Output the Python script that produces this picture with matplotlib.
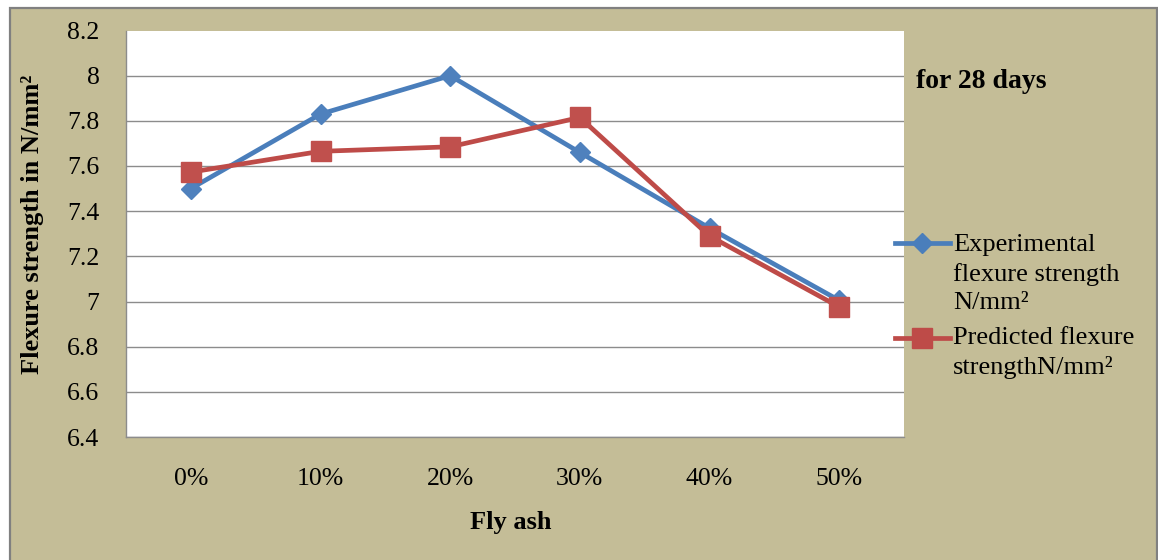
import matplotlib.pyplot as plt
from matplotlib.patches import Rectangle
from matplotlib.lines import Line2D

# fly ash replacement levels and flexure strength (N/mm2) at 28 days
fly_ash = ["0%", "10%", "20%", "30%", "40%", "50%"]
experimental = [7.50, 7.83, 8.00, 7.66, 7.325, 7.005]
predicted = [7.573, 7.665, 7.685, 7.815, 7.29, 6.976]
y_ticks = [6.4, 6.6, 6.8, 7.0, 7.2, 7.4, 7.6, 7.8, 8.0, 8.2]
y_labels = ["6.4", "6.6", "6.8", "7", "7.2", "7.4", "7.6", "7.8", "8", "8.2"]

BG = "#C4BD97"
BLUE = "#4A7EBB"
RED = "#BE4B48"
serif = ["Liberation Serif", "DejaVu Serif"]
plt.rcParams["font.family"] = serif

fig = plt.figure(figsize=(11.58, 5.6), dpi=100)
fig.patch.set_facecolor("white")

# chart frame (tan panel with grey border)
W, H = 1158, 560
frame = Rectangle((10 / W, -0.05), 1147 / W, 1.05 - 8 / H, transform=fig.transFigure,
                  facecolor=BG, edgecolor="#808080", linewidth=1.6, zorder=-1)
fig.patches.append(frame)

ax = fig.add_axes([126 / W, 1 - 437 / H, 778 / W, (437 - 30.5) / H])
ax.set_facecolor("white")
x = list(range(len(fly_ash)))

ax.plot(x, experimental, color=BLUE, linewidth=3.4, marker="D", markersize=10.5,
        markerfacecolor="#4F81BD", markeredgecolor="#4F81BD", zorder=3)
ax.plot(x, predicted, color=RED, linewidth=3.4, marker="s", markersize=14,
        markerfacecolor="#C0504D", markeredgecolor="#C0504D", zorder=4)

ax.set_xlim(-0.5, len(fly_ash) - 0.5)
ax.set_ylim(6.4, 8.2)
ax.set_xticks(x)
ax.set_xticklabels(fly_ash)
ax.set_yticks(y_ticks)
ax.set_yticklabels(y_labels)
ax.tick_params(axis="both", length=0, labelsize=18.5, labelfontfamily="Liberation Serif")
ax.tick_params(axis="y", pad=19)
ax.tick_params(axis="x", pad=22)

ax.grid(axis="y", color="#8C8C8C", linewidth=1.0)
ax.get_ygridlines()[-1].set_visible(False)
ax.set_axisbelow(True)
for side in ["top", "right"]:
    ax.spines[side].set_visible(False)
for side in ["left", "bottom"]:
    ax.spines[side].set_color("#8C8C8C")
    ax.spines[side].set_linewidth(1.0)

fig.text(33 / W, 1 - 224 / H, "Flexure strength in N/mm²", rotation=90,
         ha="center", va="center", fontsize=19, fontweight="bold")
fig.text(511 / W, 1 - 522 / H, "Fly ash", ha="center", va="center",
         fontsize=19, fontweight="bold")
fig.text(916 / W, 1 - 81 / H, "for 28 days", ha="left", va="center",
         fontsize=20, fontweight="bold")

# legend drawn by hand so the handle sits on the first text line
for ypix, col, mk, ms, label, ctr in [
    (243, BLUE, "D", 10.5, "Experimental\nflexure strength\nN/mm²", 274),
    (338, RED, "s", 14, "Predicted flexure\nstrengthN/mm²", 353),
]:
    fig.add_artist(Line2D([895 / W, 950 / W], [1 - ypix / H] * 2, transform=fig.transFigure,
                          color=col, linewidth=3.4))
    fig.add_artist(Line2D([922 / W], [1 - ypix / H], transform=fig.transFigure,
                          color=col, marker=mk, markersize=ms, linestyle="none"))
    fig.text(953 / W, 1 - ctr / H, label, ha="left", va="center", fontsize=19,
             linespacing=1.4)

fig.savefig("out.png", dpi=100)
